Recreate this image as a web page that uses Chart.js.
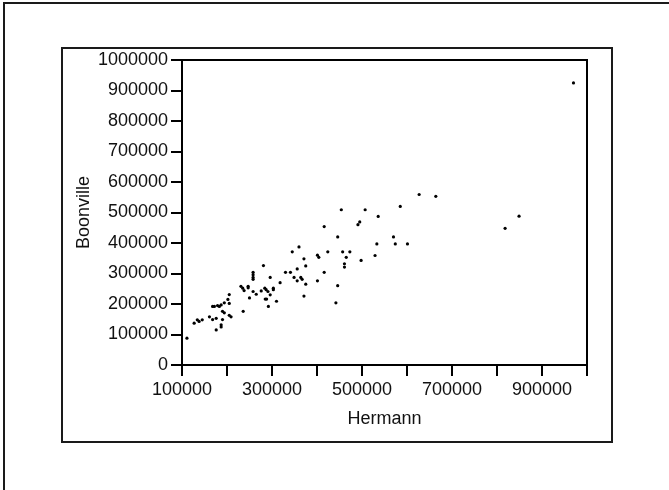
<!DOCTYPE html>
<html>
<head>
<meta charset="utf-8">
<title>Hermann vs Boonville</title>
<script src="https://cdn.jsdelivr.net/npm/chart.js@4.4.1/dist/chart.umd.min.js"></script>
<style>
  body { margin: 0; background: #fff; }
  canvas { display: block; }
</style>
</head>
<body>
<canvas id="scatterChart" width="669" height="490"></canvas>
<script>
// Hermann readings (x) and the matching Boonville readings (y)
const hermann = [
    111000, 127000, 134000, 138000, 145000, 161000, 168000, 176000, 168000, 172000,
    179000, 183000, 187000, 194000, 202000, 205000, 190000, 194000, 205000, 205000,
    209000, 190000, 187000, 187000, 176000, 231000, 235000, 238000, 247000, 247000,
    236000, 250000, 258000, 265000, 258000, 258000, 258000, 258000, 281000, 276000,
    284000, 287000, 291000, 296000, 285000, 288000, 292000, 296000, 303000, 303000,
    310000, 318000,
    454000, 507000, 495000, 491000, 416000, 446000, 360000, 345000, 401000, 404000,
    424000, 457000, 473000, 465000, 498000, 529000, 371000, 375000, 461000, 461000,
    356000, 330000, 341000, 416000, 349000, 364000, 367000, 356000, 401000, 375000,
    446000, 371000, 442000,
    627000, 664000, 585000, 536000, 570000, 533000, 574000, 601000,
    970000, 849000, 818000
];
const boonville = [
    88000, 137000, 148000, 143000, 148000, 158000, 149000, 153000, 192000, 192000,
    195000, 192000, 197000, 204000, 215000, 231000, 176000, 171000, 202000, 163000,
    158000, 149000, 132000, 125000, 115000, 258000, 252000, 244000, 258000, 253000,
    176000, 220000, 241000, 232000, 304000, 296000, 287000, 281000, 326000, 243000,
    252000, 247000, 241000, 230000, 216000, 216000, 192000, 287000, 252000, 247000,
    209000, 270000,
    509000, 509000, 469000, 460000, 454000, 420000, 387000, 371000, 360000, 353000,
    371000, 371000, 371000, 353000, 343000, 359000, 348000, 325000, 332000, 321000,
    315000, 304000, 304000, 304000, 287000, 287000, 281000, 276000, 276000, 265000,
    260000, 226000, 204000,
    559000, 553000, 520000, 487000, 420000, 397000, 397000, 397000,
    925000, 488000, 448000
];

// axis settings
const xLabelValues = [100000, 300000, 500000, 700000, 900000];
const xTitle = 'Hermann';
const yTitle = 'Boonville';
const fontFamily = '"Liberation Sans", Arial, Helvetica, sans-serif';

// build the point list for the scatter dataset
const points = hermann.map(function (h, i) {
    return { x: h, y: boonville[i] };
});

// draws the page frames and the top / right sides of the plot box
const framePlugin = {
    id: 'frames',
    beforeDraw(chart) {
        const ctx = chart.ctx;
        ctx.save();
        ctx.fillStyle = '#fff';
        ctx.fillRect(0, 0, chart.width, chart.height);
        ctx.strokeStyle = '#1a1a1a';
        ctx.lineWidth = 2;
        // outer border (left and top only)
        ctx.beginPath();
        ctx.moveTo(4, chart.height);
        ctx.lineTo(4, 3);
        ctx.lineTo(chart.width, 3);
        ctx.stroke();
        // inner frame round the chart
        ctx.strokeRect(62, 48, 550, 394);
        ctx.restore();
    },
    afterDraw(chart) {
        const a = chart.chartArea;
        const ctx = chart.ctx;
        ctx.save();
        ctx.strokeStyle = '#000';
        ctx.lineWidth = 2;
        ctx.beginPath();
        ctx.moveTo(a.left, a.top);
        ctx.lineTo(a.right, a.top);
        ctx.lineTo(a.right, a.bottom);
        ctx.stroke();
        ctx.restore();
    }
};

const ctx = document.getElementById('scatterChart').getContext('2d');
const scatterChart = new Chart(ctx, {
    type: 'scatter',
    data: {
        datasets: [{
            label: yTitle,
            data: points,
            backgroundColor: '#000',
            borderColor: '#000',
            borderWidth: 0,
            pointRadius: 1.6,
            pointHoverRadius: 1.6
        }]
    },
    options: {
        responsive: false,
        animation: false,
        devicePixelRatio: 1,
        layout: {
            padding: { left: 62, right: 82, top: 60, bottom: 48 }
        },
        plugins: {
            legend: { display: false },
            tooltip: { enabled: false }
        },
        scales: {
            x: {
                type: 'linear',
                min: 100000,
                max: 1000000,
                afterFit(scale) { scale.height = 77; },
                ticks: {
                    stepSize: 100000,
                    autoSkip: false,
                    maxRotation: 0,
                    padding: 3,
                    color: '#111',
                    font: { family: fontFamily, size: 18 },
                    callback: function (value) {
                        return xLabelValues.includes(value) ? String(value) : '';
                    }
                },
                grid: {
                    drawOnChartArea: false,
                    drawTicks: true,
                    tickLength: 11,
                    lineWidth: 2,
                    color: '#000'
                },
                border: { display: true, width: 2, color: '#000' },
                title: {
                    display: true,
                    text: xTitle,
                    color: '#111',
                    font: { family: fontFamily, size: 18 },
                    padding: { top: 0, bottom: 12 }
                }
            },
            y: {
                type: 'linear',
                min: 0,
                max: 1000000,
                afterFit(scale) { scale.width = 120; },
                ticks: {
                    stepSize: 100000,
                    padding: 3,
                    color: '#111',
                    font: { family: fontFamily, size: 18 },
                    callback: function (value) {
                        return String(value);
                    }
                },
                grid: {
                    drawOnChartArea: false,
                    drawTicks: true,
                    tickLength: 11,
                    lineWidth: 2,
                    color: '#000'
                },
                border: { display: true, width: 2, color: '#000' },
                title: {
                    display: true,
                    text: yTitle,
                    color: '#111',
                    font: { family: fontFamily, size: 18 },
                    padding: { top: 11, bottom: 0 }
                }
            }
        }
    },
    plugins: [framePlugin]
});
</script>
</body>
</html>
